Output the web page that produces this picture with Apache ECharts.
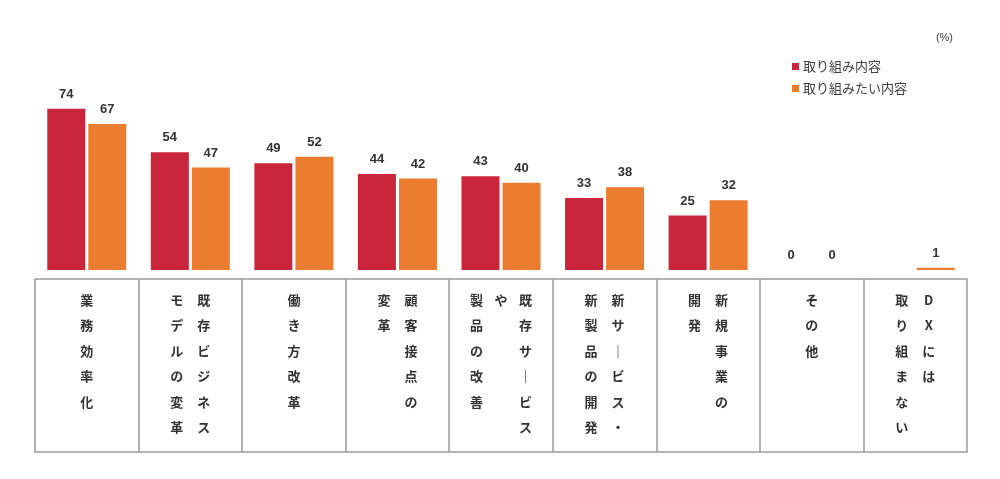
<!DOCTYPE html>
<html>
<head>
<meta charset="utf-8">
<script src="https://cdn.jsdelivr.net/npm/echarts@6/dist/echarts.min.js"></script>
<style>
  html, body { margin: 0; padding: 0; background: #fff; }
  #main { width: 1000px; height: 479px; }
</style>
</head>
<body>
<div id="main"></div>
<script>
// カテゴリ（縦書きの列を右から順に "|" で区切る）
var categories = [
  '業務効率化',
  '既存ビジネス|モデルの変革',
  '働き方改革',
  '顧客接点の|変革',
  '既存サービス|や|製品の改善',
  '新サービス・|新製品の開発',
  '新規事業の|開発',
  'その他',
  'DXには|取り組まない'
];
var seriesNames = ['取り組み内容', '取り組みたい内容'];
var doing = [74, 54, 49, 44, 43, 33, 25, 0, '-'];
var wantToDo = [67, 47, 52, 42, 40, 38, 32, 0, 1];

var jpFont = '"Noto Sans CJK JP", "Noto Sans", sans-serif';
var numFont = '"Liberation Sans", Arial, sans-serif';

// 縦書き風ラベルを作る
function verticalLabel(name) {
  var cols = name.split('|').reverse(); // 左の列から並べる
  var rows = 0;
  cols.forEach(function (c) { rows = Math.max(rows, c.length); });
  var lines = [];
  for (var r = 0; r < rows; r++) {
    var line = '';
    for (var k = 0; k < cols.length; k++) {
      var ch = cols[k].charAt(r) || '　';
      if (ch === 'ー') ch = '｜';
      // 3列のときは中央の列を細くする
      var style = (cols.length === 3 && k === 1) ? 'm' : 'c';
      line += '{' + style + '|' + ch + '}';
    }
    lines.push(line);
  }
  return lines.join('\n');
}

var cellStyle = {
  width: 27,
  align: 'center',
  fontSize: 13,
  fontWeight: 'bold',
  lineHeight: 25.5,
  color: '#333',
  fontFamily: jpFont
};

var myChart = echarts.init(document.getElementById('main'));
var option = {
  animation: false,
  backgroundColor: '#fff',
  title: {
    text: '(%)',
    right: 42,
    top: 27,
    textStyle: { fontSize: 11, fontWeight: 'normal', color: '#404040', fontFamily: numFont }
  },
  legend: {
    orient: 'vertical',
    left: 787,
    top: 55,
    itemWidth: 7,
    itemHeight: 7,
    itemGap: 9,
    icon: 'rect',
    data: seriesNames,
    textStyle: { fontSize: 13, color: '#404040', fontFamily: jpFont, padding: [0, 0, 0, -1] }
  },
  grid: [
    { left: 35, right: 33, top: 52, bottom: 209 },
    { left: 35, right: 33, top: 279, bottom: 27 }
  ],
  xAxis: [
    {
      type: 'category',
      gridIndex: 0,
      data: categories,
      axisLine: { show: false },
      axisTick: { show: false },
      axisLabel: { show: false }
    },
    {
      type: 'category',
      gridIndex: 1,
      position: 'top',
      data: categories,
      axisLine: { show: true, onZero: false, lineStyle: { color: '#9a9a9a', width: 1.5 } },
      axisTick: { show: false },
      splitLine: { show: true, lineStyle: { color: '#9a9a9a', width: 1.5 } },
      axisLabel: {
        inside: true,
        margin: 8,
        interval: 0,
        formatter: verticalLabel,
        rich: {
          c: cellStyle,
          m: Object.assign({}, cellStyle, { width: 22 })
        }
      }
    },
    {
      type: 'category',
      gridIndex: 1,
      position: 'bottom',
      data: categories,
      axisLine: { show: true, onZero: false, lineStyle: { color: '#9a9a9a', width: 1.5 } },
      axisTick: { show: false },
      axisLabel: { show: false }
    }
  ],
  yAxis: [
    { type: 'value', gridIndex: 0, min: 0, max: 100, show: false },
    { type: 'value', gridIndex: 1, min: 0, max: 1, show: false }
  ],
  series: [
    {
      name: seriesNames[0],
      type: 'bar',
      xAxisIndex: 0,
      yAxisIndex: 0,
      data: doing,
      barWidth: 38,
      barGap: '8%',
      itemStyle: { color: '#c9253b' },
      label: {
        show: true,
        position: 'top',
        distance: 8,
        fontSize: 13,
        fontWeight: 'bold',
        color: '#333',
        fontFamily: numFont
      }
    },
    {
      name: seriesNames[1],
      type: 'bar',
      xAxisIndex: 0,
      yAxisIndex: 0,
      data: wantToDo,
      barWidth: 38,
      itemStyle: { color: '#ec7d30' },
      label: {
        show: true,
        position: 'top',
        distance: 8,
        fontSize: 13,
        fontWeight: 'bold',
        color: '#333',
        fontFamily: numFont
      }
    }
  ]
};
myChart.setOption(option);
</script>
</body>
</html>
